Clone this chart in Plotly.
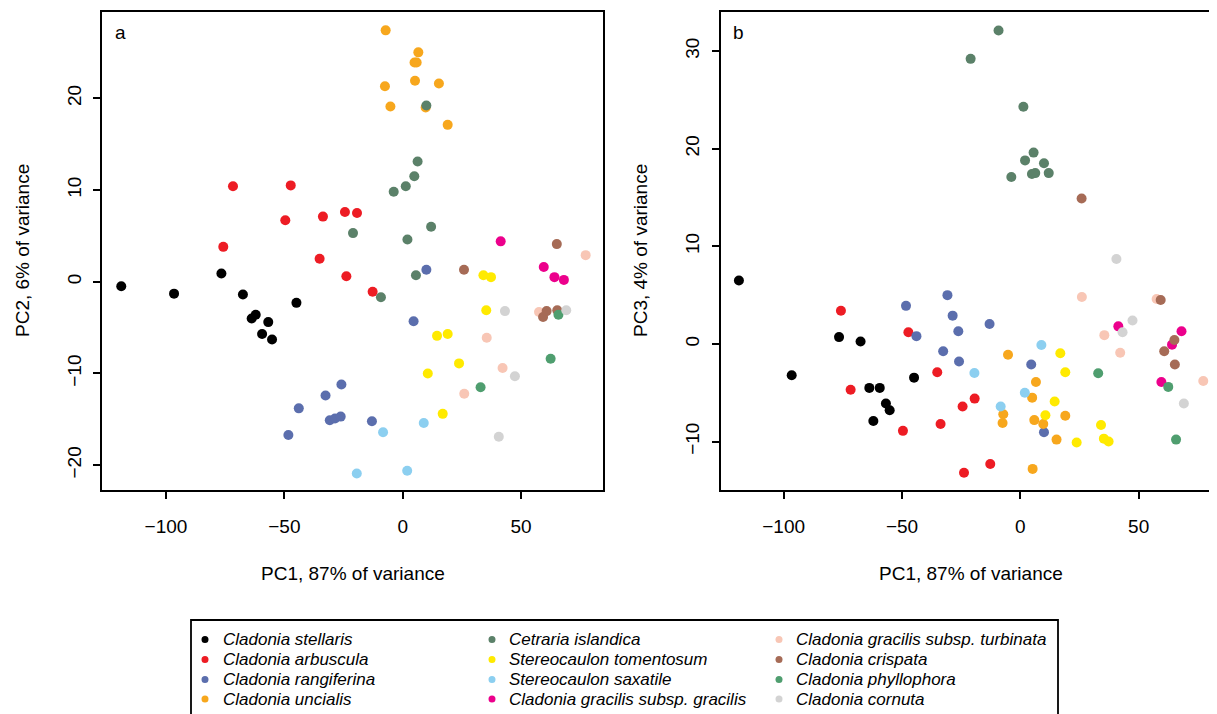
import plotly.graph_objects as go

# ---------------- data (PC1, PC2, PC3 per sample) ----------------
species = [
    "Cladonia stellaris", "Cladonia arbuscula", "Cladonia rangiferina", "Cladonia uncialis",
    "Cetraria islandica", "Stereocaulon tomentosum", "Stereocaulon saxatile",
    "Cladonia gracilis subsp. gracilis", "Cladonia gracilis subsp. turbinata",
    "Cladonia crispata", "Cladonia phyllophora", "Cladonia cornuta",
]
colors = [
    "#000000", "#ED1C24", "#5B6EAD", "#F7A71D",
    "#5B8169", "#FFEA00", "#8CCFF0",
    "#EC008C", "#F8C6B5",
    "#A66B56", "#4F9E6F", "#D3D3D3",
]

stellaris_pc1 = [-118.9, -96.6, -76.6, -67.5, -63.8, -62.1, -59.4, -56.8, -55.2, -44.9]
stellaris_pc2 = [-0.5, -1.3, 0.9, -1.4, -4.0, -3.6, -5.7, -4.4, -6.3, -2.3]
stellaris_pc3 = [6.5, -3.2, 0.7, 0.25, -4.5, -7.9, -4.5, -6.1, -6.8, -3.45]

arbuscula_pc1 = [-75.8, -71.7, -49.6, -47.3, -35.1, -33.7, -24.4, -23.8, -19.3, -12.7]
arbuscula_pc2 = [3.8, 10.4, 6.7, 10.5, 2.5, 7.1, 7.6, 0.6, 7.5, -1.1]
arbuscula_pc3 = [3.4, -4.7, -8.9, 1.2, -2.9, -8.2, -6.4, -13.2, -5.6, -12.3]

rangiferina_pc1 = [-48.3, -43.9, -32.6, -30.8, -28.6, -26.2, -25.9, -13.0, 4.6, 10.0]
rangiferina_pc2 = [-16.7, -13.8, -12.4, -15.1, -14.9, -14.7, -11.2, -15.2, -4.3, 1.3]
rangiferina_pc3 = [3.9, 0.8, -0.75, 5.0, 2.9, 1.3, -1.8, 2.05, -2.1, -9.05]

uncialis_pc1 = [-7.5, -7.2, -5.2, 5.0, 5.2, 5.9, 6.6, 9.7, 15.3, 19.0]
uncialis_pc2 = [21.3, 27.4, 19.1, 23.9, 21.9, 23.9, 25.0, 19.0, 21.6, 17.1]
uncialis_pc3 = [-8.1, -7.2, -1.1, -5.5, -12.8, -7.8, -3.9, -8.2, -9.8, -7.35]

islandica_pc1 = [-21.0, -9.2, -3.8, 1.3, 2.0, 4.9, 5.6, 6.3, 10.0, 12.0]
islandica_pc2 = [5.3, -1.7, 9.8, 10.4, 4.6, 11.5, 0.7, 13.1, 19.2, 6.0]
islandica_pc3 = [29.2, 32.1, 17.1, 24.3, 18.8, 17.4, 19.6, 17.5, 18.5, 17.5]

tomentosum_pc1 = [10.6, 14.5, 16.9, 19.0, 23.8, 34.1, 35.3, 37.3]
tomentosum_pc2 = [-10.0, -5.9, -14.4, -5.7, -8.9, 0.7, -3.1, 0.5]
tomentosum_pc3 = [-7.3, -5.9, -0.96, -2.9, -10.1, -8.3, -9.7, -10.0]

saxatile_pc1 = [-19.4, -8.3, 1.9, 8.9]
saxatile_pc2 = [-20.9, -16.4, -20.6, -15.4]
saxatile_pc3 = [-2.97, -6.4, -5.0, -0.1]

gracilis_pc1 = [41.4, 59.6, 64.1, 68.1]
gracilis_pc2 = [4.4, 1.6, 0.5, 0.2]
gracilis_pc3 = [1.8, -3.9, -0.07, 1.3]

turbinata_pc1 = [26.0, 35.5, 42.2, 57.6, 77.3]
turbinata_pc2 = [-12.2, -6.1, -9.4, -3.3, 2.9]
turbinata_pc3 = [4.8, 0.9, -0.9, 4.6, -3.8]

crispata_pc1 = [25.9, 59.3, 60.8, 65.1, 65.3]
crispata_pc2 = [1.3, -3.85, -3.2, 4.1, -3.1]
crispata_pc3 = [14.9, 4.5, -0.75, 0.4, -2.1]

phyllophora_pc1 = [32.9, 62.5, 65.8]
phyllophora_pc2 = [-11.5, -8.4, -3.6]
phyllophora_pc3 = [-3.0, -4.4, -9.8]

cornuta_pc1 = [40.6, 43.2, 47.4, 69.1]
cornuta_pc2 = [-16.9, -3.2, -10.3, -3.1]
cornuta_pc3 = [8.7, 1.2, 2.4, -6.1]

pc1_all = [stellaris_pc1, arbuscula_pc1, rangiferina_pc1, uncialis_pc1, islandica_pc1,
           tomentosum_pc1, saxatile_pc1, gracilis_pc1, turbinata_pc1, crispata_pc1,
           phyllophora_pc1, cornuta_pc1]
pc2_all = [stellaris_pc2, arbuscula_pc2, rangiferina_pc2, uncialis_pc2, islandica_pc2,
           tomentosum_pc2, saxatile_pc2, gracilis_pc2, turbinata_pc2, crispata_pc2,
           phyllophora_pc2, cornuta_pc2]
pc3_all = [stellaris_pc3, arbuscula_pc3, rangiferina_pc3, uncialis_pc3, islandica_pc3,
           tomentosum_pc3, saxatile_pc3, gracilis_pc3, turbinata_pc3, crispata_pc3,
           phyllophora_pc3, cornuta_pc3]

x_ticks = [-100, -50, 0, 50]
ya_ticks = [-20, -10, 0, 10, 20]
yb_ticks = [-10, 0, 10, 20, 30]
x_title = "PC1, 87% of variance"
ya_title = "PC2, 6% of variance"
yb_title = "PC3, 4% of variance"

# ---------------- layout geometry ----------------
# The page body has an 8 px margin, so the figure is drawn 8 px smaller and
# all reference-pixel positions below are shifted by OFF.
OFF = 8
W, H = 1217 - OFF, 714 - OFF
ML, MT = 102 - OFF, 12 - OFF
PLOT_BOTTOM = 490 - OFF
MB = H - PLOT_BOTTOM
PW, PH = W - ML, H - MT - MB
A_RIGHT = 603
B_LEFT = 720.7

def px(xp):  # reference pixel x -> paper
    return (xp - OFF - ML) / PW

def py(yp):  # reference pixel y -> paper
    return (PLOT_BOTTOM - (yp - OFF)) / PH

FONT = "Liberation Sans, Arial, sans-serif"
fig = go.Figure()

for name, col, x1, y2 in zip(species, colors, pc1_all, pc2_all):
    fig.add_trace(go.Scatter(x=x1, y=y2, mode="markers", name=name, showlegend=False,
                             marker=dict(color=col, size=10, line=dict(width=0)),
                             xaxis="x", yaxis="y"))
for name, col, x1, y3 in zip(species, colors, pc1_all, pc3_all):
    fig.add_trace(go.Scatter(x=x1, y=y3, mode="markers", name=name, showlegend=False,
                             marker=dict(color=col, size=10, line=dict(width=0)),
                             xaxis="x2", yaxis="y2"))

ax_common = dict(showgrid=False, zeroline=False, showline=True, linecolor="black",
                 linewidth=1.8, ticks="outside", ticklen=7, tickwidth=1.5,
                 tickcolor="black", tickfont=dict(family=FONT, size=19, color="black"))

fig.update_layout(
    width=W, height=H, plot_bgcolor="white", paper_bgcolor="white",
    margin=dict(l=ML, r=0, t=MT, b=MB, autoexpand=False),
    showlegend=False,
    font=dict(family=FONT, color="black"),
    xaxis=dict(domain=[0, px(A_RIGHT)], range=[-127.04, 84.62], tickvals=x_ticks,
               mirror=True, ticklabelstandoff=11, anchor="y", **ax_common),
    yaxis=dict(domain=[0, 1], range=[-22.7, 29.4], tickvals=ya_ticks, tickangle=-90,
               mirror=True, ticklabelstandoff=5, anchor="x", **ax_common),
    xaxis2=dict(domain=[px(B_LEFT), 1], range=[-126.6, 83.1], tickvals=x_ticks,
                mirror=True, ticklabelstandoff=11, anchor="y2", **ax_common),
    yaxis2=dict(domain=[0, 1], range=[-14.96, 34.0], tickvals=yb_ticks, tickangle=-90,
                mirror=False, ticklabelstandoff=5, anchor="x2", **ax_common),
)

ann = []
ann.append(dict(text="a", x=px(113), y=py(33), xref="paper", yref="paper",
                xanchor="left", yanchor="middle", showarrow=False,
                font=dict(family=FONT, size=19, color="black")))
ann.append(dict(text="b", x=px(731), y=py(33), xref="paper", yref="paper",
                xanchor="left", yanchor="middle", showarrow=False,
                font=dict(family=FONT, size=19, color="black")))
for cx in [(102 + A_RIGHT) / 2, (B_LEFT + 1221.5) / 2]:
    ann.append(dict(text=x_title, x=px(cx), y=py(573), xref="paper", yref="paper",
                    xanchor="center", yanchor="middle", showarrow=False,
                    font=dict(family=FONT, size=19, color="black")))
for cx, t in [(22, ya_title), (640, yb_title)]:
    ann.append(dict(text=t, x=px(cx), y=py(251), xref="paper", yref="paper",
                    xanchor="center", yanchor="middle", showarrow=False, textangle=-90,
                    font=dict(family=FONT, size=19, color="black")))

# ---------------- manual legend (column-major, 3 columns x 4 rows) ----------------
shapes = [dict(type="rect", xref="paper", yref="paper", x0=px(191), x1=px(1058),
               y0=py(740), y1=py(620), line=dict(color="black", width=1.8),
               fillcolor="rgba(0,0,0,0)", layer="above")]
col_dot = [205, 492, 779]
col_txt = [221, 507, 794]
row_y = [639.5, 659.5, 679.5, 699.0]
for i, (name, col) in enumerate(zip(species, colors)):
    c, r = divmod(i, 4)
    shapes.append(dict(type="circle", xref="paper", yref="paper",
                       xsizemode="pixel", ysizemode="pixel",
                       xanchor=px(col_dot[c]), yanchor=py(row_y[r]),
                       x0=-3.5, x1=3.5, y0=-3.5, y1=3.5,
                       fillcolor=col, line=dict(width=0)))
    ann.append(dict(text=name, x=px(col_txt[c]), y=py(row_y[r]), xref="paper", yref="paper",
                    xanchor="left", yanchor="middle", showarrow=False,
                    font=dict(family=FONT, size=17, color="black", style="italic")))

fig.update_layout(annotations=ann, shapes=shapes)
fig.write_html("out.html")
